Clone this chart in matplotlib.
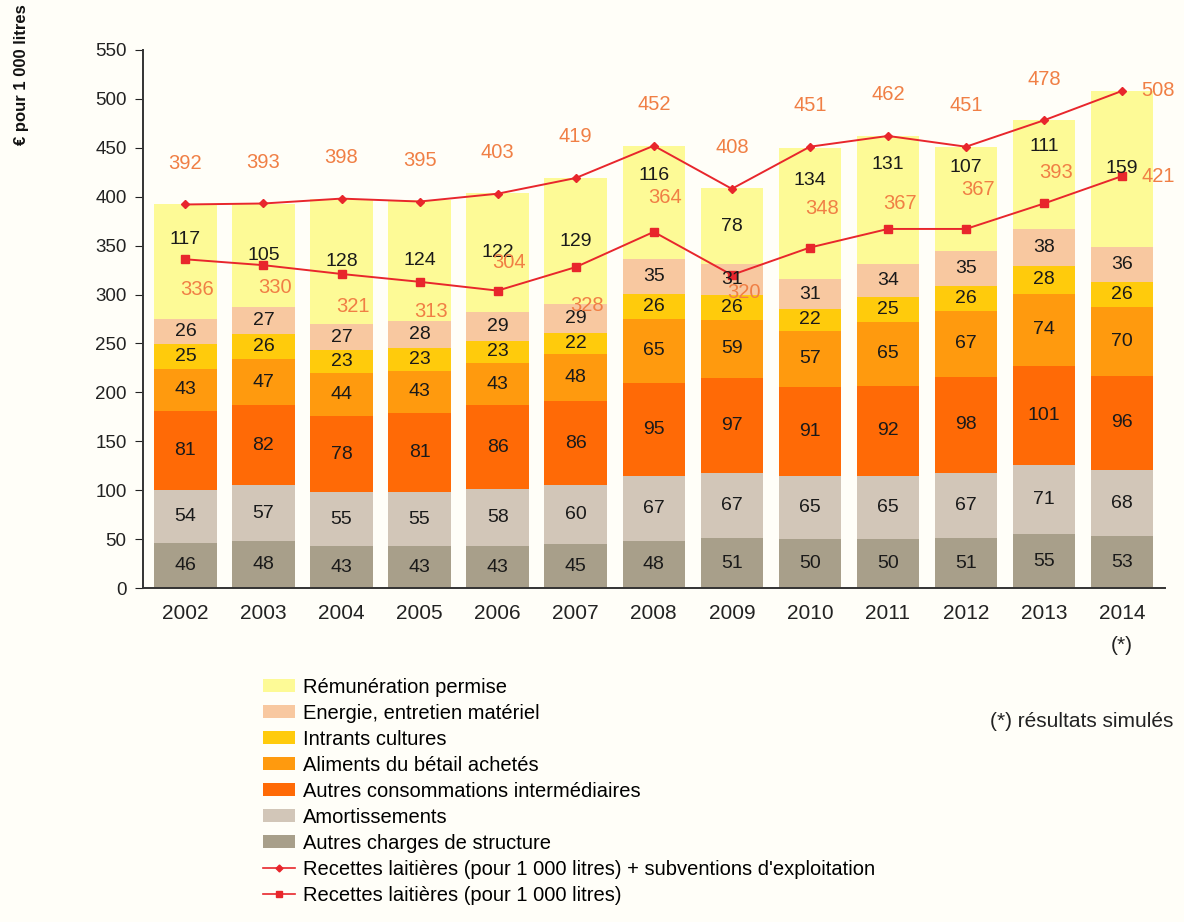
import matplotlib.pyplot as plt
from matplotlib.patches import Patch
from matplotlib.lines import Line2D
import numpy as np

plt.rcParams['font.family'] = ['Liberation Sans', 'DejaVu Sans']

years = ['2002', '2003', '2004', '2005', '2006', '2007', '2008',
         '2009', '2010', '2011', '2012', '2013', '2014\n(*)']

# stacked from bottom to top
autres_charges = [46, 48, 43, 43, 43, 45, 48, 51, 50, 50, 51, 55, 53]
amortissements = [54, 57, 55, 55, 58, 60, 67, 67, 65, 65, 67, 71, 68]
autres_conso = [81, 82, 78, 81, 86, 86, 95, 97, 91, 92, 98, 101, 96]
aliments = [43, 47, 44, 43, 43, 48, 65, 59, 57, 65, 67, 74, 70]
intrants = [25, 26, 23, 23, 23, 22, 26, 26, 22, 25, 26, 28, 26]
energie = [26, 27, 27, 28, 29, 29, 35, 31, 31, 34, 35, 38, 36]
remuneration = [117, 105, 128, 124, 122, 129, 116, 78, 134, 131, 107, 111, 159]

recettes_subv = [392, 393, 398, 395, 403, 419, 452, 408, 451, 462, 451, 478, 508]
recettes = [336, 330, 321, 313, 304, 328, 364, 320, 348, 367, 367, 393, 421]

series = [
    ('Autres charges de structure', autres_charges, '#A89F8A'),
    ('Amortissements', amortissements, '#D2C6B8'),
    ('Autres consommations intermédiaires', autres_conso, '#FF6A06'),
    ('Aliments du bétail achetés', aliments, '#FF9A0E'),
    ('Intrants cultures', intrants, '#FFCB0C'),
    ('Energie, entretien matériel', energie, '#F8C8A0'),
    ('Rémunération permise', remuneration, '#FDFA96'),
]

# label nudges (in axis units) copied from the original layout
rem_shift = [23, 0, 0, 0, 0, 0, 28, 0, 33, 36, 32, 29, 0]
low_dy = [-31, -23, -33, -30, 29, -39, 35, -18, 40, 26, 40, 32, 0]

bg = '#FFFEF8'
fig = plt.figure(figsize=(11.84, 9.22), dpi=100, facecolor=bg)
ax = fig.add_axes([0.121, 0.362, 0.863, 0.584], facecolor=bg)

x = np.arange(len(years))
bottom = np.zeros(len(years))
for name, vals, color in series:
    vals = np.array(vals)
    ax.bar(x, vals, 0.8, bottom=bottom, color=color, linewidth=0, zorder=2)
    shift = rem_shift if name == 'Rémunération permise' else [0] * len(x)
    for xi, b, v, s in zip(x, bottom, vals, shift):
        ax.text(xi, b + v / 2 + s, str(v), ha='center', va='center',
                fontsize=14, color='#1a1a1a', zorder=4)
    bottom += vals

red = '#E8262C'
lab = '#F07F45'
ax.plot(x, recettes_subv, color=red, lw=1.4, marker='D', ms=4.5, zorder=3)
ax.plot(x, recettes, color=red, lw=1.4, marker='s', ms=5.5, zorder=3)

last = len(x) - 1
for xi, v in zip(x, recettes_subv):
    if xi == last:
        ax.text(xi + 0.46, v, str(v), ha='center', va='center', fontsize=14.5, color=lab, zorder=5)
    else:
        ax.text(xi, v + 42, str(v), ha='center', va='center', fontsize=14.5, color=lab, zorder=5)

for xi, v, dy in zip(x, recettes, low_dy):
    dx = 0.46 if xi == last else 0.15
    ax.text(xi + dx, v + dy, str(v), ha='center', va='center', fontsize=14.5, color=lab, zorder=5)

ax.set_xlim(-0.54, len(years) - 0.45)
ax.set_ylim(0, 550)
ax.set_yticks(range(0, 551, 50))
ax.set_xticks(x)
ax.set_xticklabels(years, fontsize=15, linespacing=1.9)
ax.tick_params(axis='x', length=0, pad=11, colors='#222222')
ax.tick_params(axis='y', length=6, labelsize=13.5, colors='#222222', direction='out', pad=6)
for s in ['top', 'right']:
    ax.spines[s].set_visible(False)
for s in ['left', 'bottom']:
    ax.spines[s].set_color('#333333')
    ax.spines[s].set_linewidth(1.4)

fig.text(0.018, 0.995, '€ pour 1 000 litres', rotation=90, ha='center', va='top',
         fontsize=12, fontweight='bold', color='#111111')

handles = [Patch(facecolor=c, edgecolor='none', label=n) for n, _, c in reversed(series)]
handles.append(Line2D([], [], color=red, lw=1.2, marker='D', ms=3.5,
                      label="Recettes laitières (pour 1 000 litres) + subventions d'exploitation"))
handles.append(Line2D([], [], color=red, lw=1.2, marker='s', ms=4.5,
                      label='Recettes laitières (pour 1 000 litres)'))
fig.legend(handles=handles, loc='upper left', bbox_to_anchor=(0.222, 0.265),
           frameon=False, fontsize=14.5, labelspacing=0.35, handlelength=1.6,
           handleheight=0.6, handletextpad=0.4, borderaxespad=0, borderpad=0)

fig.text(0.991, 0.217, '(*) résultats simulés', ha='right', va='center', fontsize=15, color='#222222')

fig.savefig('out.png', dpi=100, facecolor=bg)
